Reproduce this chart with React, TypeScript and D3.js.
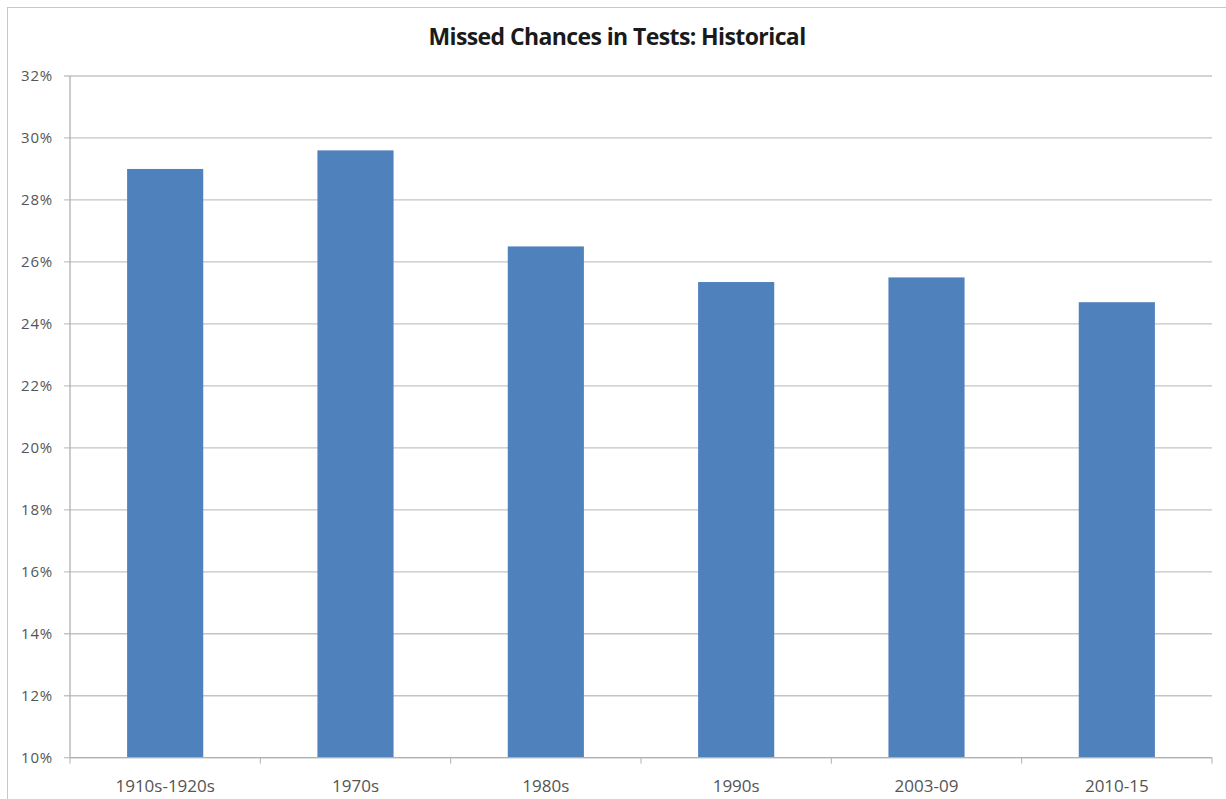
import { useMemo } from "react";
import * as d3 from "d3";

const categories = ["1910s-1920s", "1970s", "1980s", "1990s", "2003-09", "2010-15"];
const missedPct = [29.0, 29.6, 26.5, 25.35, 25.5, 24.7];
const yTicks = [10, 12, 14, 16, 18, 20, 22, 24, 26, 28, 30, 32];

const W = 1226;
const H = 799;
const margin = { left: 70, right: 14, top: 76, bottom: 42 };

export default function App() {
  const x = useMemo(
    () =>
      d3
        .scaleBand<string>()
        .domain(categories)
        .range([margin.left, W - margin.right])
        .paddingInner(0.6)
        .paddingOuter(0.3),
    []
  );
  const y = useMemo(
    () => d3.scaleLinear().domain([10, 32]).range([H - margin.bottom + 0.7, margin.top]),
    []
  );

  const bottom = y(10);
  const step = x.step();
  const left = margin.left;
  const right = W - margin.right;

  return (
    <svg
      width={W}
      height={H}
      style={{ position: "absolute", left: 0, top: 0, background: "#fff" }}
      fontFamily="'Open Sans', sans-serif"
    >
      <rect x={7.5} y={7.5} width={W} height={H} fill="none" stroke="#c8c8c8" />
      <text
        x={617}
        y={45}
        textAnchor="middle"
        fontSize={23}
        fontWeight="bold"
        fill="#1a1a1a"
        letterSpacing={-0.6}
      >
        Missed Chances in Tests: Historical
      </text>

      {/* gridlines */}
      {yTicks.map((t) => (
        <g key={t}>
          <line x1={left - 6} x2={right} y1={y(t)} y2={y(t)} stroke="#c4c4c4" strokeWidth={1.3} />
          <text x={53} y={y(t) + 5} textAnchor="end" fontSize={15} fill="#555" letterSpacing={0.8}>
            {t}%
          </text>
        </g>
      ))}

      {/* bars */}
      {categories.map((c, i) => (
        <rect
          key={c}
          x={x(c)}
          y={y(missedPct[i])}
          width={x.bandwidth()}
          height={bottom - y(missedPct[i])}
          fill="#4f81bd"
        />
      ))}

      {/* axes */}
      <line x1={left} x2={left} y1={y(32)} y2={bottom} stroke="#b0b0b0" strokeWidth={1.3} />
      <line x1={left} x2={right} y1={bottom} y2={bottom} stroke="#b0b0b0" strokeWidth={1.3} />
      {d3.range(categories.length + 1).map((i) => (
        <line
          key={i}
          x1={left + i * step}
          x2={left + i * step}
          y1={bottom}
          y2={bottom + 6}
          stroke="#b0b0b0"
        />
      ))}
      {categories.map((c) => (
        <text
          key={c}
          x={(x(c) ?? 0) + x.bandwidth() / 2}
          y={bottom + 34}
          textAnchor="middle"
          fontSize={17}
          fill="#555"
        >
          {c}
        </text>
      ))}
    </svg>
  );
}
